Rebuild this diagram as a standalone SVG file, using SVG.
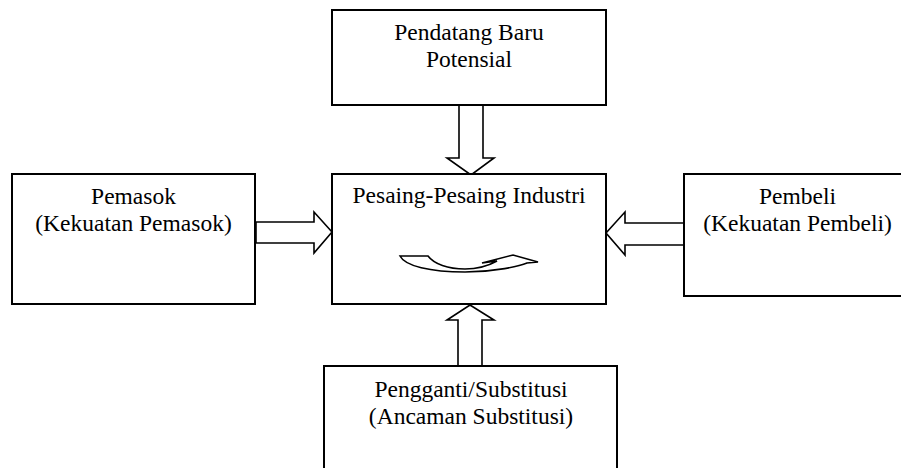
<svg xmlns="http://www.w3.org/2000/svg" width="901" height="468" viewBox="0 0 901 468">
<style>
.box{fill:#fff;stroke:#000;stroke-width:2}
.arr{fill:#fff;stroke:#000;stroke-width:1.6;stroke-linejoin:miter}
text{font-family:"Liberation Serif","Times New Roman",serif;font-size:23.5px;fill:#000;text-anchor:middle}
</style>
<rect width="901" height="468" fill="#fff"/>
<g id="connectors">
<polygon class="arr" points="459,105 483,105 483,158 494,158 471,175 447,158 459,158"/>
<polygon class="arr" points="458,366 482,366 482,320 494,320 470,305 447,320 458,320"/>
<polygon class="arr" points="256,222 314,222 314,212 332,232 314,253 314,243 256,243"/>
<polygon class="arr" points="684,223 625,223 625,212 606,233 625,255 625,245 684,245"/>
</g>
<g id="top">
<rect class="box" x="332" y="10" width="274" height="95"/>
<text x="469" y="40">Pendatang Baru</text>
<text x="469" y="67">Potensial</text>
</g>
<g id="center">
<rect class="box" x="332" y="174" width="274" height="130"/>
<text x="469" y="203">Pesaing-Pesaing Industri</text>
<path class="arr" d="M400,256 L428,256 C434,264 448,269 465,269 C478,269 488,266 497,261 L482,263 L513,255 L538,262 L527,263 C520,266 495,272 465,272 C430,272 405,266 400,256 Z"/>
</g>
<g id="left">
<rect class="box" x="12" y="174" width="243" height="130"/>
<text x="133.5" y="204">Pemasok</text>
<text x="133.5" y="231">(Kekuatan Pemasok)</text>
</g>
<g id="right">
<rect class="box" x="684" y="174" width="230" height="122"/>
<text x="797.5" y="204">Pembeli</text>
<text x="797.5" y="231">(Kekuatan Pembeli)</text>
</g>
<g id="bottom">
<rect class="box" x="324" y="366" width="293" height="110"/>
<text x="471" y="397">Pengganti/Substitusi</text>
<text x="471" y="424">(Ancaman Substitusi)</text>
</g>
</svg>
